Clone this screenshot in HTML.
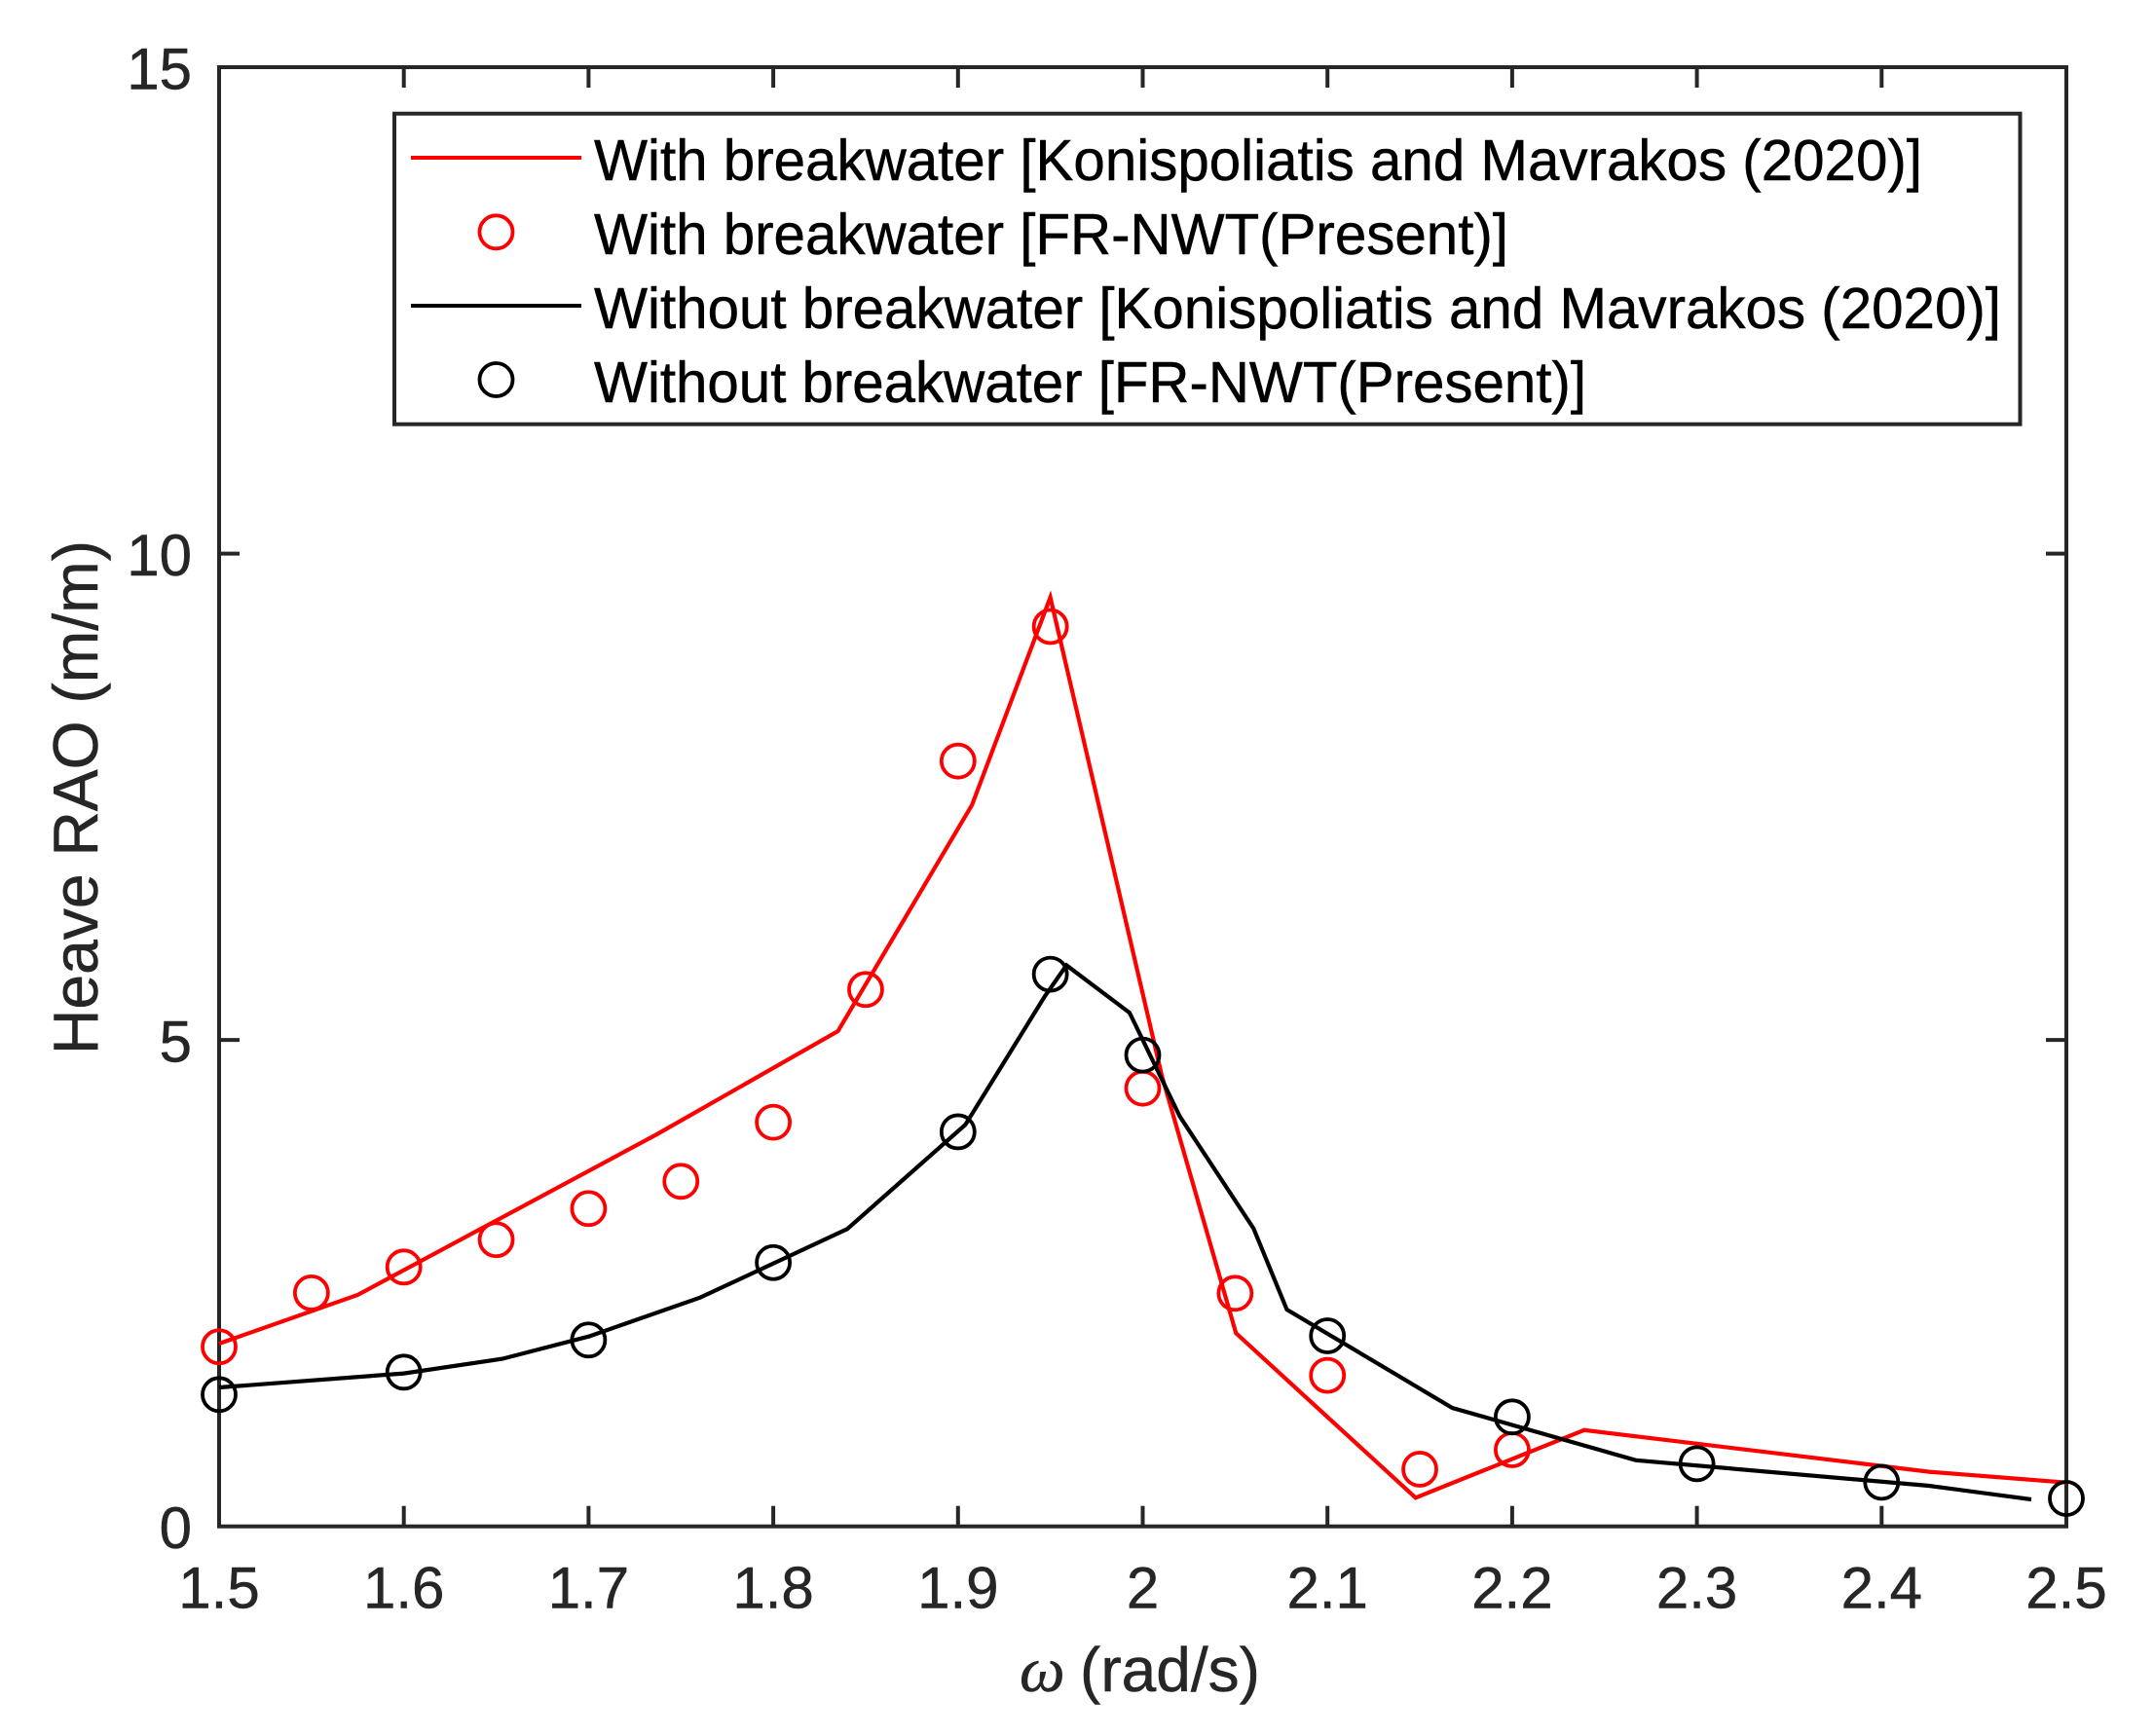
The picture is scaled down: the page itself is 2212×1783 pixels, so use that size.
<!DOCTYPE html>
<html lang="en">
<head>
<meta charset="utf-8">
<title>Heave RAO chart</title>
<style>
html,body{margin:0;padding:0;background:#fff;}
svg{display:block;}
text{font-family:"Liberation Sans",Arial,sans-serif;}
</style>
</head>
<body>
<svg id="chart" xmlns="http://www.w3.org/2000/svg" width="2212" height="1783" viewBox="0 0 2212 1783">
  <rect x="0" y="0" width="2212" height="1783" fill="#ffffff"/>
  <rect x="225" y="69" width="1897" height="1498.7" fill="none" stroke="#262626" stroke-width="4"/>
  <g id="ticks"></g>
  <g id="tick-labels" fill="#262626" font-size="60" stroke="#262626" stroke-width="0.5"></g>
  <g id="series"></g>
  <text transform="translate(100,1083) rotate(-90)" font-size="65" fill="#262626" stroke="#262626" stroke-width="0.5" textLength="528" lengthAdjust="spacingAndGlyphs">Heave RAO (m/m)</text>
  <g fill="#262626" stroke="#262626" stroke-width="0.5">
    <text x="1047" y="1737" font-size="66" font-style="italic" style="font-family:'Liberation Serif',serif">ω</text>
    <text x="1109" y="1737" font-size="64">(rad/s)</text>
  </g>
  <g>
    <rect x="405" y="116.7" width="1669.5" height="319" fill="#ffffff" stroke="#262626" stroke-width="4"/>
    <line x1="422" x2="597" y1="162" y2="162" stroke="#ff0000" stroke-width="4"/>
    <circle cx="509.5" cy="238.3" r="17" fill="none" stroke="#ff0000" stroke-width="3.8"/>
    <line x1="422" x2="597" y1="314" y2="314" stroke="#000000" stroke-width="4"/>
    <circle cx="509.5" cy="390" r="17" fill="none" stroke="#000000" stroke-width="3.8"/>
    <g fill="#000000" font-size="59" stroke="#000000" stroke-width="0.5">
      <text x="610" y="185" textLength="1364" lengthAdjust="spacingAndGlyphs">With breakwater [Konispoliatis and Mavrakos (2020)]</text>
      <text x="610" y="261" textLength="939" lengthAdjust="spacingAndGlyphs">With breakwater [FR-NWT(Present)]</text>
      <text x="610" y="337" textLength="1445" lengthAdjust="spacingAndGlyphs">Without breakwater [Konispoliatis and Mavrakos (2020)]</text>
      <text x="610" y="413" textLength="1019" lengthAdjust="spacingAndGlyphs">Without breakwater [FR-NWT(Present)]</text>
    </g>
  </g>
</svg>
<script>
// Axis tick values and labels
const xTicks = [1.5, 1.6, 1.7, 1.8, 1.9, 2.0, 2.1, 2.2, 2.3, 2.4, 2.5];
const xTickLabels = ["1.5", "1.6", "1.7", "1.8", "1.9", "2", "2.1", "2.2", "2.3", "2.4", "2.5"];
const yTicks = [0, 5, 10, 15];
const yTickLabels = ["0", "5", "10", "15"];

// With breakwater, reference curve
const redLineOmega = [1.5, 1.575, 1.737, 1.835, 1.9076, 1.95, 2.0104, 2.0505, 2.1477, 2.239, 2.4256, 2.5];
const redLineRao = [1.879, 2.379, 4.03, 5.09, 7.416, 9.55, 4.63, 1.986, 0.294, 0.99, 0.561, 0.45];

// With breakwater, present results
const redMarkerOmega = [1.5, 1.55, 1.6, 1.65, 1.7, 1.75, 1.8, 1.85, 1.9, 1.95, 2.0, 2.05, 2.1, 2.15, 2.2];
const redMarkerRao = [1.846, 2.40, 2.666, 2.947, 3.267, 3.547, 4.154, 5.519, 7.867, 9.25, 4.504, 2.396, 1.552, 0.588, 0.788];

// Without breakwater, reference curve
const blackLineOmega = [1.5, 1.6, 1.6533, 1.7, 1.7604, 1.84, 1.904, 1.947, 1.9587, 1.9929, 2.0201, 2.06, 2.078, 2.1676, 2.267, 2.4256, 2.481];
const blackLineRao = [1.428, 1.572, 1.722, 1.952, 2.352, 3.057, 4.13, 5.45, 5.768, 5.28, 4.214, 3.063, 2.229, 1.218, 0.68, 0.417, 0.277];

// Without breakwater, present results
const blackMarkerOmega = [1.5, 1.6, 1.7, 1.8, 1.9, 1.95, 2.0, 2.1, 2.2, 2.3, 2.4, 2.5];
const blackMarkerRao = [1.355, 1.585, 1.916, 2.712, 4.056, 5.676, 4.845, 1.959, 1.125, 0.644, 0.454, 0.287];

const SVG_NS = "http://www.w3.org/2000/svg";
const plot = { left: 225, right: 2122, top: 69, bottom: 1567.7, xMin: 1.5, xMax: 2.5, yMin: 0, yMax: 15 };
const scaleX = v => plot.left + (v - plot.xMin) / (plot.xMax - plot.xMin) * (plot.right - plot.left);
const scaleY = v => plot.bottom - (v - plot.yMin) / (plot.yMax - plot.yMin) * (plot.bottom - plot.top);

function make(tag, attrs, parent) {
  const el = document.createElementNS(SVG_NS, tag);
  for (const k in attrs) el.setAttribute(k, attrs[k]);
  parent.appendChild(el);
  return el;
}

const tickGroup = document.getElementById("ticks");
const labelGroup = document.getElementById("tick-labels");
const seriesGroup = document.getElementById("series");
const TICK = 21;
const tickStyle = { stroke: "#262626", "stroke-width": 4 };

xTicks.forEach((t, i) => {
  const x = scaleX(t);
  if (i > 0 && i < xTicks.length - 1) {
    const bottomTick = make("line", Object.assign({ x1: x, x2: x, y1: plot.bottom, y2: plot.bottom - TICK }, tickStyle), tickGroup);
    
    
    const topTick = make("line", Object.assign({ x1: x, x2: x, y1: plot.top, y2: plot.top + TICK }, tickStyle), tickGroup);
    
    
  }
  const label = make("text", { x: x, y: plot.bottom + 84, "text-anchor": "middle" }, labelGroup);
  label.textContent = xTickLabels[i];
  
  
});

yTicks.forEach((t, i) => {
  const y = scaleY(t);
  if (i > 0 && i < yTicks.length - 1) {
    const leftTick = make("line", Object.assign({ x1: plot.left, x2: plot.left + TICK, y1: y, y2: y }, tickStyle), tickGroup);
    
    
    const rightTick = make("line", Object.assign({ x1: plot.right, x2: plot.right - TICK, y1: y, y2: y }, tickStyle), tickGroup);
    
    
  }
  const label = make("text", { x: 197, y: y + 22.5, "text-anchor": "end" }, labelGroup);
  label.textContent = yTickLabels[i];
  
  
});

function drawLine(xs, ys, color) {
  const pts = xs.map((x, i) => scaleX(x).toFixed(1) + "," + scaleY(ys[i]).toFixed(1)).join(" ");
  return make("polyline", { points: pts, fill: "none", stroke: color, "stroke-width": 4.2, "stroke-linejoin": "miter" }, seriesGroup);
}
function drawMarkers(xs, ys, color) {
  return xs.map((x, i) => make("circle", { cx: scaleX(x), cy: scaleY(ys[i]), r: 17, fill: "none", stroke: color, "stroke-width": 3.8 }, seriesGroup));
}

const redLine = drawLine(redLineOmega, redLineRao, "#ff0000");


drawMarkers(redMarkerOmega, redMarkerRao, "#ff0000").forEach(m => {
  
  
});
const blackLine = drawLine(blackLineOmega, blackLineRao, "#000000");


drawMarkers(blackMarkerOmega, blackMarkerRao, "#000000").forEach(m => {
  
  
});
</script>
</body>
</html>
